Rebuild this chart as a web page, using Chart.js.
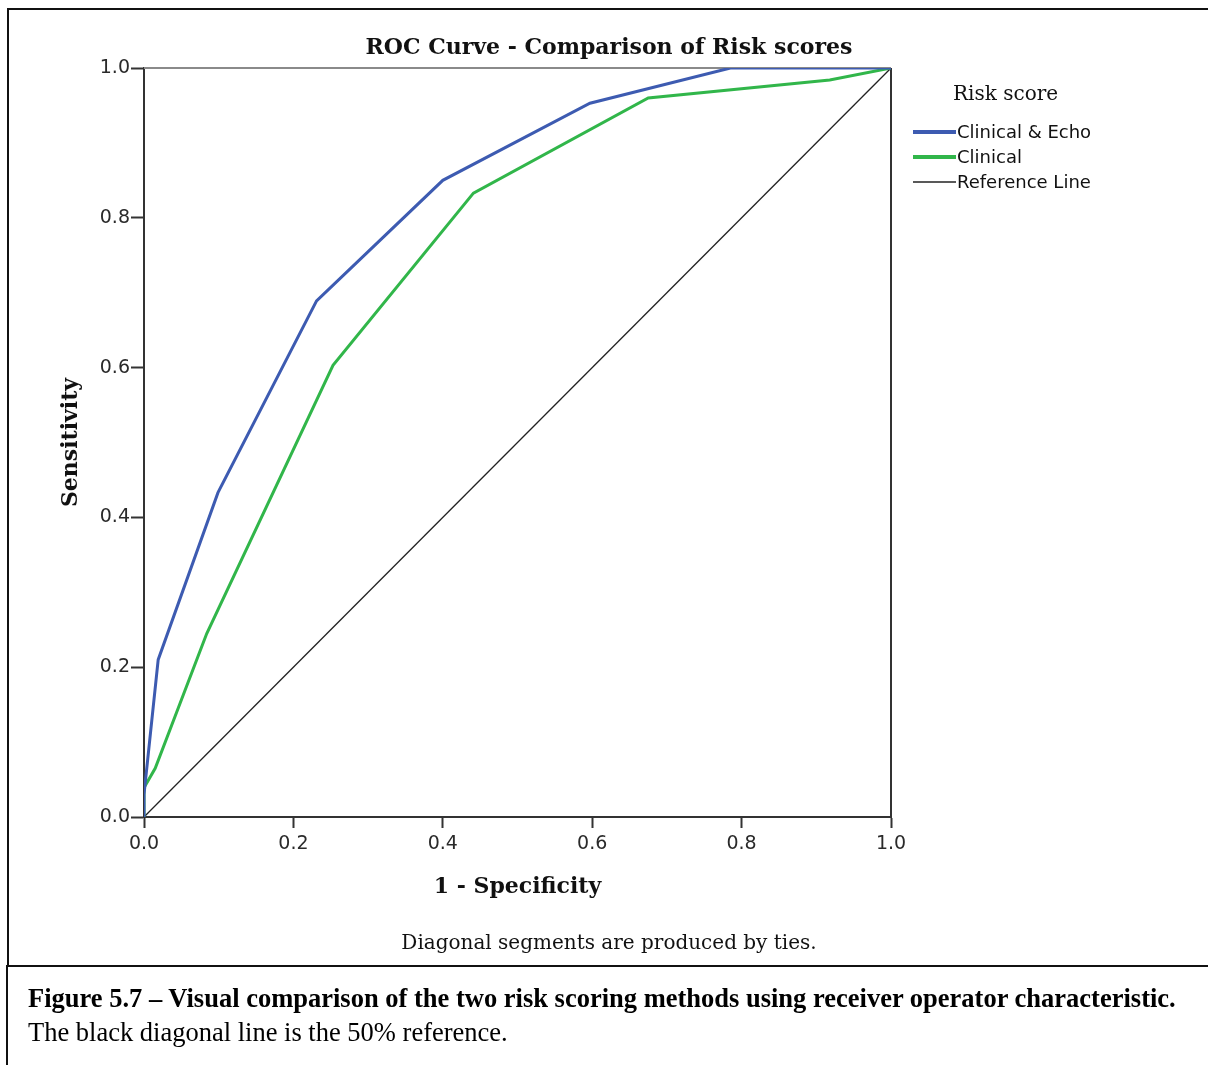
<!DOCTYPE html>
<html>
<head>
<meta charset="utf-8">
<script src="https://cdn.jsdelivr.net/npm/chart.js@4.4.1/dist/chart.umd.min.js"></script>
<style>
  html, body { margin: 0; padding: 0; background: #fff; }
  body { width: 1208px; height: 1065px; position: relative; overflow: hidden; }
  #frame {
    position: absolute; left: 7px; top: 8px; width: 1210px; height: 957px;
    border-top: 2px solid #111; border-left: 2px solid #111;
  }
  #chart { position: absolute; left: 0; top: 0; }
  #caption {
    position: absolute; left: 6px; top: 965px; width: 1210px; height: 110px;
    border-top: 2px solid #111; border-left: 2px solid #111;
    font-family: "Liberation Serif", "Times New Roman", serif; font-size: 26.5px;
    line-height: 30px; color: #000; white-space: nowrap;
  }
  #caption .l1 { position: absolute; left: 20px; top: 16px; font-weight: bold; }
  #caption .l2 { position: absolute; left: 20px; top: 50px; }
</style>
</head>
<body>
<div id="frame"></div>
<canvas id="chart" width="1208" height="966"></canvas>
<div id="caption">
  <div class="l1">Figure 5.7 – Visual comparison of the two risk scoring methods using receiver operator characteristic.</div>
  <div class="l2">The black diagonal line is the 50% reference.</div>
</div>
<script>
// Данные кривых
const seriesNames = ["Clinical & Echo", "Clinical", "Reference Line"];
const echoX = [0, 0, 0.019, 0.099, 0.231, 0.400, 0.597, 0.785, 1];
const echoY = [0, 0.03, 0.21, 0.433, 0.689, 0.850, 0.953, 1, 1];
const clinX = [0, 0, 0.015, 0.084, 0.253, 0.441, 0.675, 0.918, 1];
const clinY = [0, 0.039, 0.065, 0.245, 0.603, 0.833, 0.960, 0.984, 1];
const refX = [0, 1];
const refY = [0, 1];
const tickValues = [0, 0.2, 0.4, 0.6, 0.8, 1.0];

const toPoints = (xs, ys) => xs.map((x, i) => ({ x, y: ys[i] }));

const SERIF = '"DejaVu Serif", serif';
const SANS = '"DejaVu Sans", sans-serif';

// Рамка, заголовки и легенда
const decorPlugin = {
  id: "decor",
  beforeDatasetsDraw(chart) {
    const { ctx, chartArea: a } = chart;
    ctx.save();
    ctx.lineWidth = 2;
    ctx.strokeStyle = "#8a8a8a";
    ctx.beginPath();
    ctx.moveTo(a.left, a.top);
    ctx.lineTo(a.right, a.top);
    ctx.stroke();
    ctx.strokeStyle = "#333";
    ctx.beginPath();
    ctx.moveTo(a.right, a.top);
    ctx.lineTo(a.right, a.bottom);
    ctx.stroke();
    ctx.restore();
  },
  afterDraw(chart) {
    const { ctx, chartArea: a } = chart;
    ctx.save();
    ctx.fillStyle = "#111";
    ctx.textBaseline = "middle";

    ctx.textAlign = "center";
    ctx.font = "bold 22px " + SERIF;
    ctx.fillText("ROC Curve - Comparison of Risk scores", 609, 48);

    ctx.fillText("1 - Specificity", (a.left + a.right) / 2, 887);

    ctx.save();
    ctx.translate(71, (a.top + a.bottom) / 2);
    ctx.rotate(-Math.PI / 2);
    ctx.fillText("Sensitivity", 0, 0);
    ctx.restore();

    ctx.font = "20px " + SERIF;
    ctx.fillText("Diagonal segments are produced by ties.", 609, 944);

    // Легенда
    ctx.textAlign = "left";
    ctx.font = "20px " + SERIF;
    ctx.fillText("Risk score", 953, 95);
    ctx.font = "18px " + SANS;
    chart.data.datasets.forEach((ds, i) => {
      const y = 133 + i * 25;
      ctx.strokeStyle = ds.borderColor;
      ctx.lineWidth = ds.borderWidth + (ds.borderWidth > 2 ? 1 : 0);
      ctx.beginPath();
      ctx.moveTo(913, y - 1);
      ctx.lineTo(956, y - 1);
      ctx.stroke();
      ctx.fillText(ds.label, 957, y);
    });
    ctx.restore();
  },
};

const tickFont = { family: SANS, size: 19 };

new Chart(document.getElementById("chart"), {
  type: "scatter",
  data: {
    datasets: [
      {
        label: seriesNames[0],
        data: toPoints(echoX, echoY),
        borderColor: "#3d5bb1",
        borderWidth: 3,
      },
      {
        label: seriesNames[1],
        data: toPoints(clinX, clinY),
        borderColor: "#31b64a",
        borderWidth: 3,
      },
      {
        label: seriesNames[2],
        data: toPoints(refX, refY),
        borderColor: "#222",
        borderWidth: 1.3,
      },
    ].map((ds) => ({ ...ds, showLine: true, pointRadius: 0, tension: 0 })),
  },
  options: {
    responsive: false,
    animation: false,
    devicePixelRatio: 1,
    layout: { padding: { left: 0, top: 68, right: 317, bottom: 0 } },
    plugins: { legend: { display: false }, tooltip: { enabled: false } },
    scales: {
      x: {
        type: "linear",
        min: 0,
        max: 1,
        afterFit: (s) => { s.height = 149; },
        afterBuildTicks: (s) => { s.ticks = tickValues.map((v) => ({ value: v })); },
        ticks: { callback: (v) => v.toFixed(1), font: tickFont, color: "#2a2a2a", padding: 5, maxRotation: 0 },
        grid: { drawOnChartArea: false, tickLength: 11, tickWidth: 2, tickColor: "#333" },
        border: { color: "#333", width: 2 },
      },
      y: {
        type: "linear",
        min: 0,
        max: 1,
        afterFit: (s) => { s.width = 144; },
        afterBuildTicks: (s) => { s.ticks = tickValues.map((v) => ({ value: v })); },
        ticks: { callback: (v) => v.toFixed(1), font: tickFont, color: "#2a2a2a", padding: 1 },
        grid: { drawOnChartArea: false, tickLength: 13, tickWidth: 2, tickColor: "#333" },
        border: { color: "#333", width: 2 },
      },
    },
  },
  plugins: [decorPlugin],
});
</script>
</body>
</html>
